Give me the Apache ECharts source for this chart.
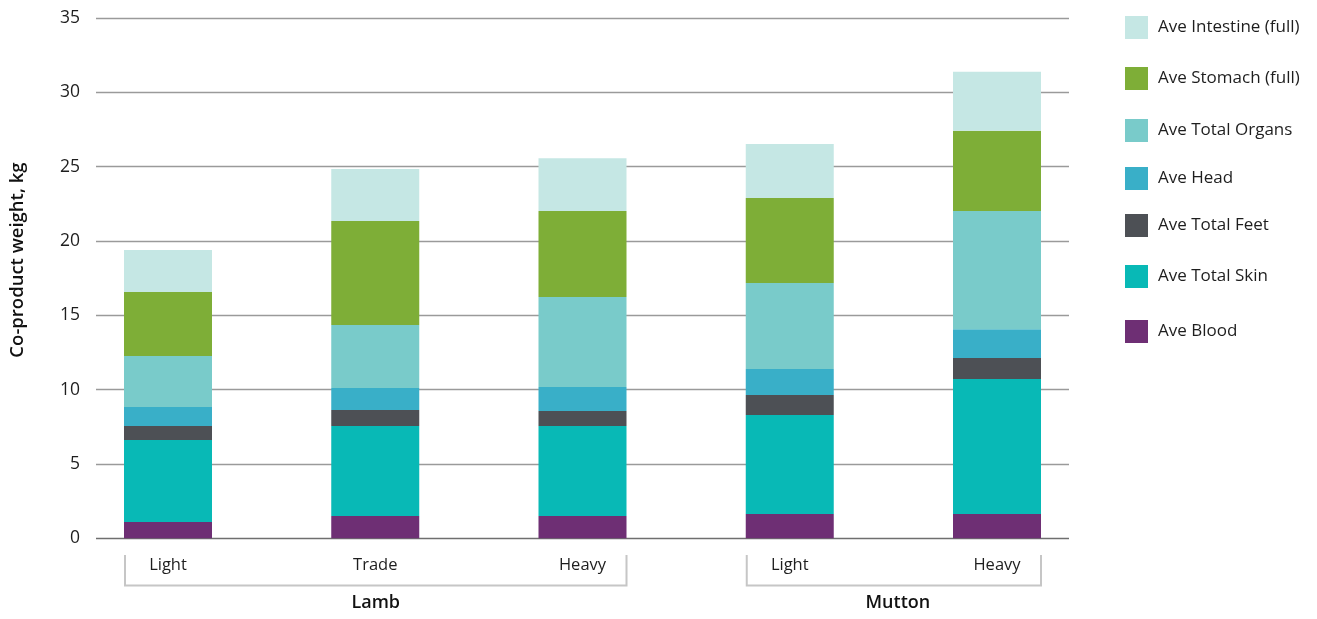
<!DOCTYPE html>
<html>
<head>
<meta charset="utf-8">
<script src="https://cdn.jsdelivr.net/npm/echarts@6/dist/echarts.min.js"></script>
<style>
  html, body { margin: 0; padding: 0; background: #ffffff; }
  #chart { width: 1317px; height: 619px; }
</style>
</head>
<body>
<div id="chart"></div>
<script>
// Co-product weights (kg) per carcass class
const categories = ['Light', 'Trade', 'Heavy', 'Light', 'Heavy'];
const groupNames = ['Lamb', 'Mutton'];
const groupSpans = [[0, 2], [3, 4]];

const blood     = [1.10, 1.50, 1.50, 1.63, 1.63];
const skin      = [5.51, 6.05, 6.05, 6.66, 9.08];
const feet      = [0.94, 1.08, 1.01, 1.35, 1.42];
const head      = [1.28, 1.48, 1.61, 1.75, 1.94];
const organs    = [3.43, 4.24, 6.06, 5.78, 7.95];
const stomach   = [4.30, 6.99, 5.78, 5.72, 5.40];
const intestine = [2.84, 3.50, 3.56, 3.64, 3.96];

const seriesNames = ['Ave Blood', 'Ave Total Skin', 'Ave Total Feet', 'Ave Head',
                     'Ave Total Organs', 'Ave Stomach (full)', 'Ave Intestine (full)'];
const seriesData = [blood, skin, feet, head, organs, stomach, intestine];
const seriesColors = ['#6e2f74', '#08b9b6', '#4d5055', '#39afc8',
                      '#79cbca', '#7eae37', '#c5e7e4'];

const yMin = 0, yMax = 35, yStep = 5;
const yTitle = 'Co-product weight, kg';

// layout
const FONT = '"Open Sans", Lato, sans-serif';
const plotTop = 18, plotBottom = 538.3;
const lineLeft = 96, lineRight = 1069;
const firstCenter = 168, slot = 207.25, barW = 88;
const legendTops = [16, 67, 119, 167, 214, 265, 320];

const chart = echarts.init(document.getElementById('chart'), null, { renderer: 'canvas' });

const bandLeft = firstCenter - slot / 2;
const grids = [
  { left: lineLeft, top: plotTop, width: lineRight - lineLeft, height: plotBottom - plotTop, containLabel: false },
  { left: bandLeft, top: plotTop, width: slot * categories.length, height: plotBottom - plotTop, containLabel: false }
];

const gridLineColors = [];
for (let v = yMin; v <= yMax; v += yStep) gridLineColors.push(v === 0 ? '#6f6f6f' : '#9a9a9a');

const legendOrder = seriesNames.slice().reverse();
const legends = legendOrder.map((name, i) => ({
  data: [name],
  orient: 'vertical',
  left: 1125,
  top: legendTops[i],
  padding: 0,
  itemWidth: 23,
  itemHeight: 23,
  icon: 'rect',
  selectedMode: false,
  textStyle: { fontFamily: FONT, fontSize: 17, color: '#1e1e1e', padding: [2, 0, 0, 5] }
}));

chart.setOption({
  animation: false,
  backgroundColor: '#ffffff',
  grid: grids,
  legend: legends,
  xAxis: [
    { gridIndex: 0, type: 'value', show: false, min: 0, max: 1 },
    {
      gridIndex: 1, type: 'category', data: categories,
      axisLine: { show: false }, axisTick: { show: false },
      axisLabel: { fontFamily: FONT, fontSize: 16.5, color: '#1e1e1e', margin: 18 }
    }
  ],
  yAxis: [
    {
      gridIndex: 0, type: 'value', min: yMin, max: yMax, interval: yStep,
      axisLine: { show: false }, axisTick: { show: false },
      axisLabel: { fontFamily: FONT, fontSize: 17.5, color: '#1e1e1e', margin: 16 },
      splitLine: { lineStyle: { color: gridLineColors, width: 1.3 } }
    },
    { gridIndex: 1, type: 'value', min: yMin, max: yMax, show: false, splitLine: { show: false } }
  ],
  series: seriesNames.map((name, i) => ({
    name: name,
    type: 'bar',
    xAxisIndex: 1,
    yAxisIndex: 1,
    stack: 'total',
    barWidth: barW,
    data: seriesData[i],
    itemStyle: { color: seriesColors[i] },
    emphasis: { disabled: true }
  }))
});

// group brackets under the category labels, placed from the category axis
function drawGroups() {
  const elements = [];
  groupSpans.forEach((span, g) => {
    const x1 = chart.convertToPixel({ xAxisIndex: 1 }, span[0]) - barW / 2 + 1;
    const x2 = chart.convertToPixel({ xAxisIndex: 1 }, span[1]) + barW / 2;
    elements.push({
      type: 'polyline',
      silent: true,
      shape: { points: [[x1, 555], [x1, 585.5], [x2, 585.5], [x2, 555]] },
      style: { stroke: '#c6c6c6', lineWidth: 2, fill: null }
    });
    elements.push({
      type: 'text',
      silent: true,
      x: (x1 + x2) / 2 + (g === 1 ? 4 : 0),
      y: 603,
      style: {
        text: groupNames[g], fontFamily: FONT, fontSize: 18, fontWeight: 600,
        fill: '#111', align: 'center', verticalAlign: 'middle'
      }
    });
  });
  elements.push({
    type: 'text',
    silent: true,
    x: 18,
    y: 260,
    rotation: Math.PI / 2,
    style: {
      text: yTitle, fontFamily: FONT, fontSize: 18.5, fontWeight: 600,
      fill: '#111', align: 'center', verticalAlign: 'middle'
    }
  });
  chart.setOption({ graphic: elements });
}
drawGroups();
</script>
</body>
</html>
